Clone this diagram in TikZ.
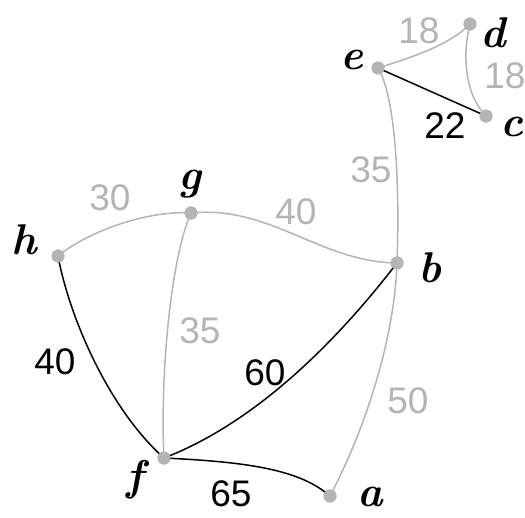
\documentclass[tikz,border=0pt]{standalone}
\usepackage{fontspec}
\newfontfamily\numfont{Liberation Sans}
\definecolor{lg}{HTML}{B4B4B4}
\begin{document}
\begin{tikzpicture}[x=1pt,y=-1pt,
  vtx/.style={circle,fill=lg,inner sep=0pt,minimum size=13pt},
  vlab/.style={font=\fontsize{43}{43}\selectfont\bfseries\itshape},
  glab/.style={font=\fontsize{37}{37}\selectfont\numfont,text=lg},
  blab/.style={font=\fontsize{37}{37}\selectfont\numfont,text=black},
  gedge/.style={draw=lg,line width=1.5pt},
  bedge/.style={draw=black,line width=1.5pt}]
\useasboundingbox (0,0) rectangle (525,517);
\node[vtx] (d) at (470,24) {};
\node[vtx] (e) at (378,68) {};
\node[vtx] (c) at (486,116) {};
\node[vtx] (g) at (191,213) {};
\node[vtx] (h) at (58,256) {};
\node[vtx] (b) at (397,263) {};
\node[vtx] (f) at (164,458) {};
\node[vtx] (a) at (330,496) {};
\node[vlab] (ld) at (493,33) {d};
\node[vlab] (le) at (352,60) {e};
\node[vlab] (lc) at (512,127) {c};
\node[vlab] (lg) at (190,184) {g};
\node[vlab] (lh) at (24,240) {h};
\node[vlab] (lb) at (430,268) {b};
\node[vlab] (lf) at (135,480) {f};
\node[vlab] (la) at (370,497) {a};
\draw[gedge] (e.center) .. controls (410,58) and (450,45) .. (d.center);
\draw[gedge] (d.center) .. controls (462,55) and (465,95) .. (c.center);
\draw[bedge] (e.center) -- (c.center);
\draw[gedge] (e.center) .. controls (395,95) and (400,180) .. (b.center);
\draw[gedge] (h.center) .. controls (90,230) and (150,210) .. (g.center);
\draw[gedge] (g.center) .. controls (270,205) and (320,262) .. (b.center);
\draw[gedge] (g.center) .. controls (170,260) and (160,380) .. (f.center);
\draw[bedge] (h.center) .. controls (70,320) and (110,410) .. (f.center);
\draw[bedge] (b.center) .. controls (330,350) and (250,425) .. (f.center);
\draw[bedge] (f.center) .. controls (250,462) and (300,470) .. (a.center);
\draw[gedge] (b.center) .. controls (395,330) and (370,420) .. (a.center);
\node[vtx] at (d) {};
\node[vtx] at (e) {};
\node[vtx] at (c) {};
\node[vtx] at (g) {};
\node[vtx] at (h) {};
\node[vtx] at (b) {};
\node[vtx] at (f) {};
\node[vtx] at (a) {};
\node[glab] (l1) at (419,31) {18};
\node[glab] (l2) at (505,76) {18};
\node[blab] (l3) at (445,126) {22};
\node[glab] (l4) at (371,170) {35};
\node[glab] (l5) at (110,198) {30};
\node[glab] (l6) at (296,212) {40};
\node[glab] (l7) at (200,331) {35};
\node[blab] (l8) at (55,362) {40};
\node[blab] (l9) at (265,373) {60};
\node[glab] (l10) at (408,401) {50};
\node[blab] (l11) at (231,494) {65};
\end{tikzpicture}
\end{document}
